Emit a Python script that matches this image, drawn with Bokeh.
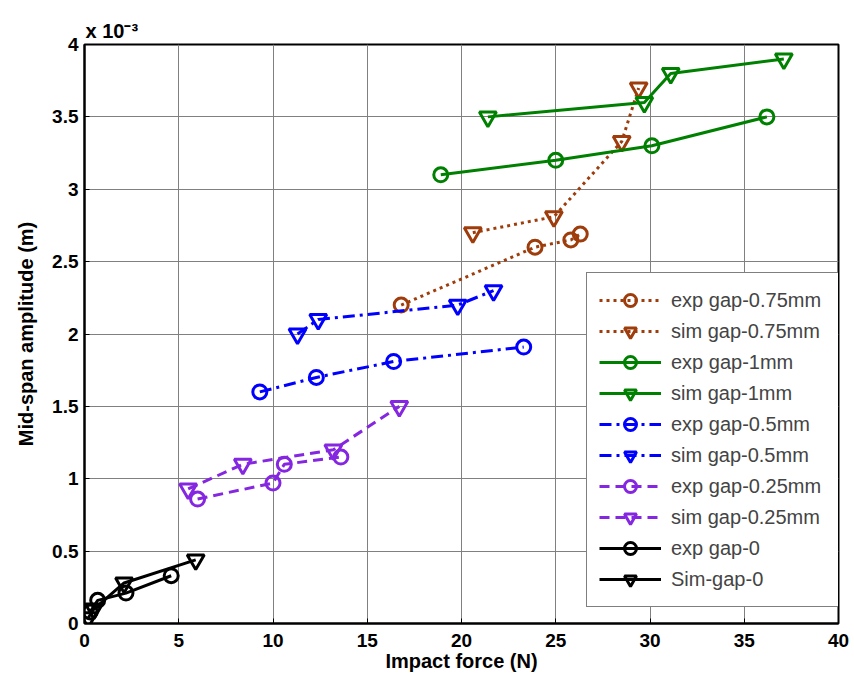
from bokeh.plotting import figure
from bokeh.models import Legend, LegendItem, Title, FixedTicker, Range1d
from bokeh.embed import file_html
from bokeh.resources import INLINE

# data (amplitude in units of 1e-3 m, force in N)
exp075_x = [16.8, 23.9, 25.8, 26.3]
exp075_y = [2.20, 2.60, 2.65, 2.69]
sim075_x = [20.6, 24.9, 28.5, 29.4]
sim075_y = [2.70, 2.81, 3.33, 3.70]
exp1_x = [18.9, 25.0, 30.1, 36.2]
exp1_y = [3.10, 3.20, 3.30, 3.50]
sim1_x = [21.4, 29.7, 31.1, 37.1]
sim1_y = [3.50, 3.60, 3.80, 3.90]
exp05_x = [9.3, 12.3, 16.4, 23.3]
exp05_y = [1.60, 1.70, 1.81, 1.91]
sim05_x = [11.3, 12.4, 19.8, 21.7]
sim05_y = [2.00, 2.10, 2.20, 2.30]
exp025_x = [6.0, 10.0, 10.6, 13.6]
exp025_y = [0.86, 0.97, 1.10, 1.15]
sim025_x = [5.5, 8.4, 13.2, 16.7]
sim025_y = [0.93, 1.10, 1.20, 1.50]
exp0_x = [0.3, 0.7, 2.2, 4.6]
exp0_y = [0.08, 0.16, 0.21, 0.33]
sim0_x = [0.2, 0.5, 2.1, 5.9]
sim0_y = [0.04, 0.10, 0.28, 0.44]

x_ticks = [0, 5, 10, 15, 20, 25, 30, 35, 40]
y_ticks = [0, 0.5, 1, 1.5, 2, 2.5, 3, 3.5, 4]

BROWN = "#9E3D0B"
GREEN = "#008000"
BLUE = "#0000FF"
PURPLE = "#8526E0"
BLACK = "#000000"

series = [
    ("exp gap-0.75mm", exp075_x, exp075_y, BROWN, "dotted", "circle"),
    ("sim gap-0.75mm", sim075_x, sim075_y, BROWN, "dotted", "inverted_triangle"),
    ("exp gap-1mm", exp1_x, exp1_y, GREEN, "solid", "circle"),
    ("sim gap-1mm", sim1_x, sim1_y, GREEN, "solid", "inverted_triangle"),
    ("exp gap-0.5mm", exp05_x, exp05_y, BLUE, "dashdot", "circle"),
    ("sim gap-0.5mm", sim05_x, sim05_y, BLUE, "dashdot", "inverted_triangle"),
    ("exp gap-0.25mm", exp025_x, exp025_y, PURPLE, "dashed", "circle"),
    ("sim gap-0.25mm", sim025_x, sim025_y, PURPLE, "dashed", "inverted_triangle"),
    ("exp gap-0", exp0_x, exp0_y, BLACK, "solid", "circle"),
    ("Sim-gap-0", sim0_x, sim0_y, BLACK, "solid", "inverted_triangle"),
]
dash_map = {"dotted": "3 4", "solid": "solid", "dashdot": "12 5 3 5", "dashed": "10 6"}

FONT = "Liberation Sans"

p = figure(width=850, height=678, output_backend="svg", toolbar_location=None,
           x_range=Range1d(0, 40), y_range=Range1d(0, 4),
           min_border_left=84, min_border_right=12, min_border_top=44, min_border_bottom=55)
p.title = Title(text="x 10\u207b\u00b3", align="left", offset=1, standoff=5,
                text_font=FONT, text_font_style="bold", text_font_size="20px",
                text_color="black")
p.background_fill_color = "white"
p.border_fill_color = "white"
p.outline_line_color = "black"
p.outline_line_width = 2

for ax in (p.xaxis, p.yaxis):
    ax.major_label_text_font = FONT
    ax.major_label_text_font_style = "bold"
    ax.major_label_text_font_size = "19px"
    ax.major_label_text_color = "black"
    ax.axis_label_text_font = FONT
    ax.axis_label_text_font_style = "bold"
    ax.axis_label_text_font_size = "20px"
    ax.axis_label_text_color = "black"
    ax.axis_line_color = "black"
    ax.axis_line_width = 2
    ax.major_tick_in = 5
    ax.major_tick_out = 0
    ax.minor_tick_line_color = None
    ax.major_tick_line_color = "black"

p.xaxis.ticker = FixedTicker(ticks=x_ticks)
p.yaxis.ticker = FixedTicker(ticks=y_ticks)
p.xaxis.axis_label = "Impact force (N)"
p.yaxis.axis_label = "Mid-span amplitude (m)"
p.xaxis.major_label_standoff = 10
p.xaxis.axis_label_standoff = 0
p.yaxis.major_label_standoff = 6
p.yaxis.axis_label_standoff = 12

p.grid.grid_line_color = "#808080"
p.grid.grid_line_width = 1

items = []
for name, xs, ys, col, dash, mk in series:
    lr = p.line(xs, ys, line_color=col, line_width=3, line_dash=dash_map[dash])
    size = 14 if mk == "circle" else 17
    sr = p.scatter(xs, ys, marker=mk, size=size, line_color=col, line_width=3,
                   fill_color=None)
    items.append(LegendItem(label=name, renderers=[lr, sr]))

legend = Legend(items=items, location=(502, 16), margin=0, padding=12, spacing=1,
                glyph_width=62, glyph_height=30, label_height=30, label_width=155,
                label_standoff=10,
                label_text_font=FONT, label_text_font_size="20px",
                border_line_color="black", border_line_width=1,
                background_fill_color="white", background_fill_alpha=1.0)
p.add_layout(legend, "center")

open("out.html", "w").write(file_html(p, INLINE))
